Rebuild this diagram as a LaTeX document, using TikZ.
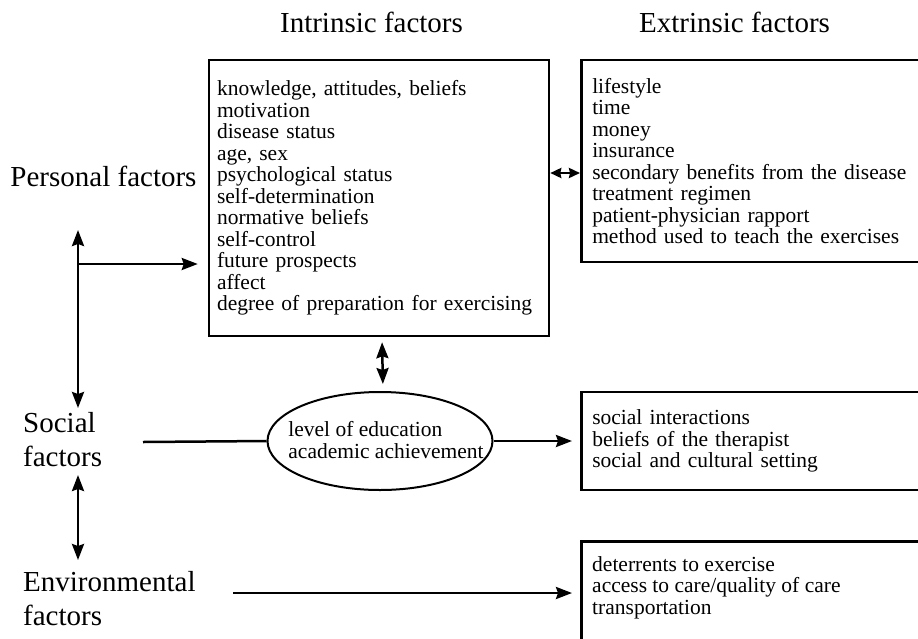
\documentclass[tikz,border=0pt]{standalone}
\usepackage{fontspec}
\setmainfont{Liberation Serif}
\usetikzlibrary{arrows.meta,shapes.geometric}
\newcommand{\myBody}{\fontsize{21.5}{21.5}\selectfont\hyphenpenalty=10000\exhyphenpenalty=10000}
\newcommand{\myHead}{\fontsize{29}{34}\selectfont}
\begin{document}
\begin{tikzpicture}[x=1pt,y=-1pt,
  box/.style={draw, line width=2.5pt, rectangle, inner xsep=8pt, inner ysep=0pt, align=left, font=\myBody},
  head/.style={font=\myHead, inner sep=0pt},
  lbl/.style={font=\myHead, inner sep=0pt, align=left, anchor=west},
  arr/.style={line width=2.5pt, -{Stealth[length=16pt,width=12pt,inset=2pt]}},
  darr/.style={line width=2.5pt, {Stealth[length=16pt,width=12pt,inset=2pt]}-{Stealth[length=16pt,width=12pt,inset=2pt]}},
  sarr/.style={line width=2.5pt, {Stealth[length=11pt,width=10pt,inset=1pt]}-{Stealth[length=11pt,width=10pt,inset=1pt]}},
  line/.style={line width=2.5pt}
]
\useasboundingbox (0,0) rectangle (918,638);
\clip (0,0) rectangle (918,638);

% headers
\node[head] (hin) at (371.5,22) {Intrinsic factors};
\node[head] (hex) at (734.5,22) {Extrinsic factors};

% boxes
\node[box, minimum width=340pt, minimum height=276pt, text width=324pt] (intr) at (379,198)
{knowledge, attitudes, beliefs\\
motivation\\
disease status\\
age, sex\\
psychological status\\
self-determination\\
normative beliefs\\
self-control\\
future prospects\\
affect\\
degree of preparation for exercising};

\node[box, minimum width=360pt, minimum height=202pt, text width=340pt, inner xsep=11pt, anchor=west] (extr) at (580,161)
{lifestyle\\
time\\
money\\
insurance\\
secondary benefits from the disease\\
treatment regimen\\
patient-physician rapport\\
method used to teach the exercises};

\node[box, minimum width=360pt, minimum height=98pt, text width=340pt, inner xsep=11pt, anchor=west] (soc) at (580,441)
{social interactions\\
beliefs of the therapist\\
social and cultural setting};

\node[box, minimum width=360pt, minimum height=120pt, anchor=north west] (env) at (580,540) {};
\node[font=\myBody, align=left, inner sep=0pt, anchor=north west] (envtext) at (592,556)
{deterrents to exercise\\
access to care/quality of care\\
transportation};

% ellipse
\node[draw, ellipse, line width=2pt, minimum width=225pt, minimum height=98pt, inner sep=0pt] (edu) at (380,441) {};
\node[font=\myBody, align=left, inner sep=0pt] (edutext) at (386,440)
{level of education\\academic achievement};

% left labels
\node[head] (pers) at (103.5,176) {Personal factors};
\node[lbl] (socl) at (23,440) {Social\\factors};
\node[lbl] (envl) at (23,599) {Environmental\\factors};

% coordinates
\coordinate (pTop) at (78,230);
\coordinate (pBot) at (78,408);
\coordinate (pBr) at (78,264);
\coordinate (sTop) at (78,475);
\coordinate (sBot) at (78,560);
\coordinate (sStart) at (143,442);
\coordinate (eStart) at (233,593);
\coordinate (bx) at (0,173);

% connectors
\draw[darr] (pTop) -- (pBot);
\draw[arr, shorten >=10pt] (pBr) -- (pBr -| intr.west);
\draw[darr] (sTop) -- (sBot);
\draw[line] (sStart) -- (edu.west);
\draw[arr, shorten >=8pt] (edu.east) -- (soc.west);
\draw[arr, shorten >=8pt] (eStart) -- (eStart -| env.west);
\draw[darr, shorten <=5pt, shorten >=7pt] ([xshift=3pt]intr.south) -- ([xshift=3pt]edu.north);
\draw[sarr] (bx -| intr.east) -- (bx -| extr.west);
\end{tikzpicture}
\end{document}
